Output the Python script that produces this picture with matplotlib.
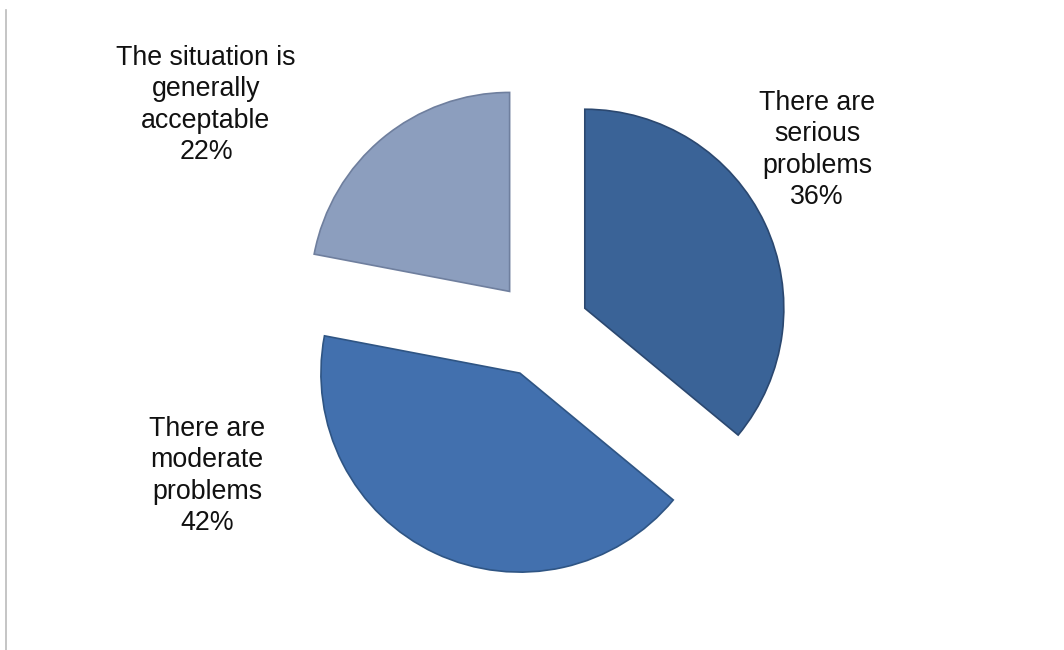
import matplotlib.pyplot as plt
from matplotlib.lines import Line2D

# data
labels = ["There are\nserious\nproblems", "There are\nmoderate\nproblems",
          "The situation is\ngenerally\nacceptable"]
shares = [36, 42, 22]
colors = ["#3A6397", "#4270AE", "#8C9EBE"]
edges = ["#2B4870", "#2F5584", "#6F7F9E"]

# label block centres in pixels (x, y from top)
label_pos = [(817, 150), (207, 476), (206, 105)]

W, H = 1064, 650
cx, cy, r = 540.7, 329.0, 199.0

fig = plt.figure(figsize=(W / 100, H / 100), dpi=100)
ax = fig.add_axes([0, 0, 1, 1])
wedges, _ = ax.pie(shares, colors=colors, startangle=90, counterclock=False,
                   explode=[0.245] * 3,
                   wedgeprops=dict(linewidth=1.2))
for w, ec in zip(wedges, edges):
    w.set_edgecolor(ec)
ax.set_xlim(-cx / r, (W - cx) / r)
ax.set_ylim((cy - H) / r, cy / r)
ax.set_aspect("auto")
ax.axis("off")

for lab, share, (px, py) in zip(labels, shares, label_pos):
    fig.text(px / W, 1 - py / H, f"{lab}\n{share}%", ha="center", va="center",
             multialignment="center", fontsize=19.3, family="Liberation Sans",
             linespacing=1.27, color="#111111")

# thin frame line on the left edge
fig.add_artist(Line2D([6 / W, 6 / W], [0, 1 - 10 / H], color="#BBBBBB",
                      linewidth=1.2, transform=fig.transFigure))

fig.savefig("out.png", dpi=100)
